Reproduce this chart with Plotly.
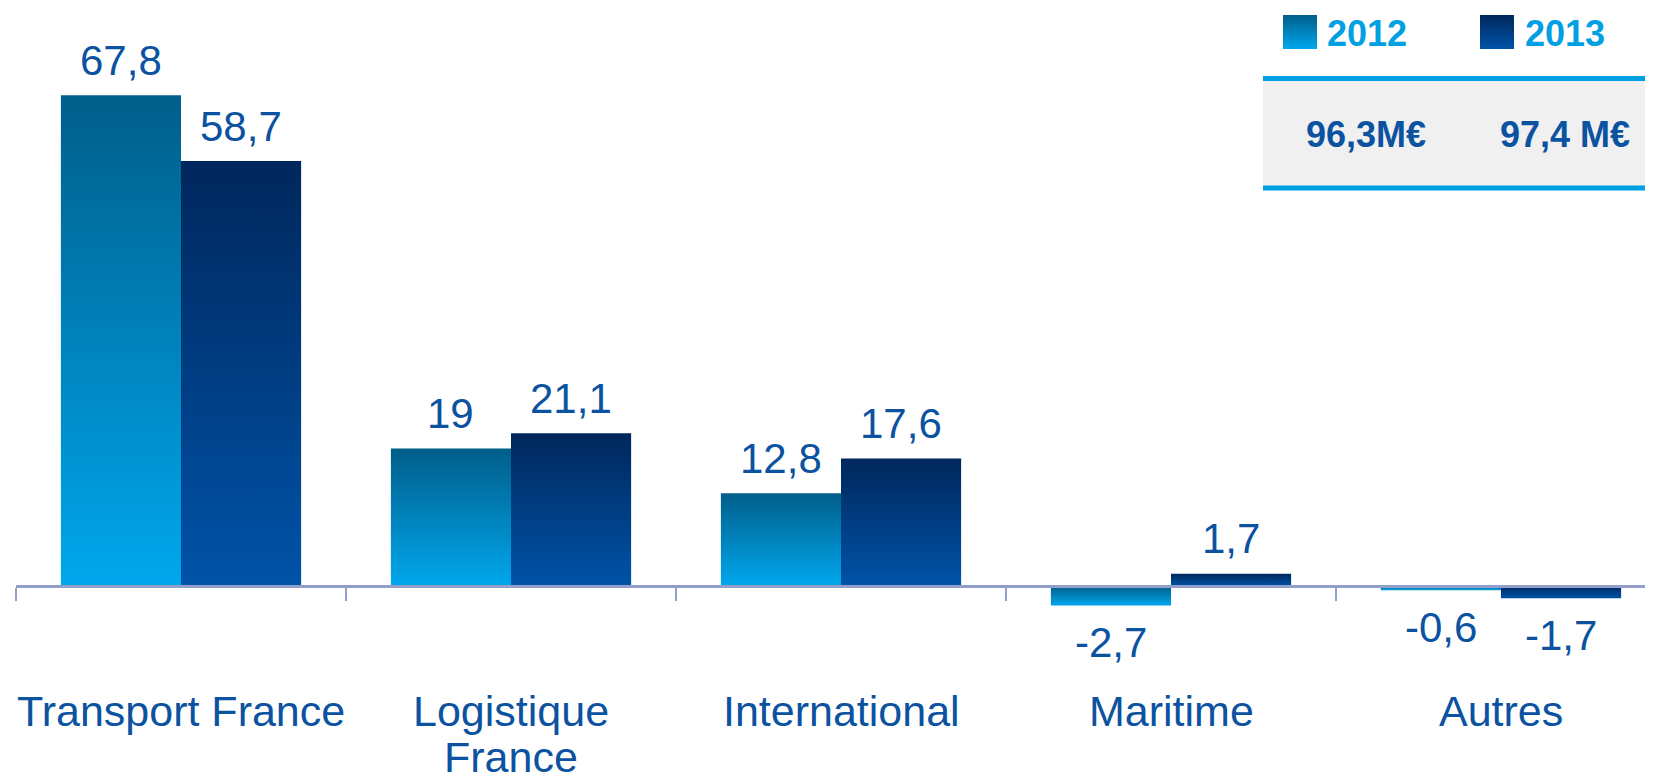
import plotly.graph_objects as go

# ---------------- data ----------------
categories = ["Transport France", "Logistique<br>France", "International", "Maritime", "Autres"]
years = ["2012", "2013"]
values_2012 = [67.8, 19, 12.8, -2.7, -0.6]
values_2013 = [58.7, 21.1, 17.6, 1.7, -1.7]
totals = ["96,3M€", "97,4 M€"]

# ---------------- styling / layout constants ----------------
PAGE_W, PAGE_H = 1653, 775
OFF = 8                          # default body margin of the html page
W, H = PAGE_W - OFF, PAGE_H - OFF
FONT = "Liberation Sans, Arial, sans-serif"
LABEL_COLOR = "#0B52A0"
CYAN = "#00A0E3"
AXIS_COLOR = "#939FCB"
GRADIENTS = {
    "2012": [[0, "#00A7ED"], [1, "#005E8A"]],
    "2013": [[0, "#0053A8"], [1, "#00275C"]],
}
zero_px = 586 - OFF     # pixel row of the value 0 (figure coords)
px_per_unit = 7.24
x0_px = 16 - OFF        # left edge of plot area
cat_px = 330            # width of one category in pixels
bar_w = 0.364           # bar width as fraction of a category
cat_label_shift = 125   # px below the axis line of the first label line
cat_line_gap = 46       # px between label lines

ymax = zero_px / px_per_unit
ymin = -(H - zero_px) / px_per_unit
xr = [-0.5, -0.5 + (W - x0_px) / cat_px]
offsets = {"2012": -bar_w / 2, "2013": bar_w / 2}
series = {"2012": values_2012, "2013": values_2013}


def fmt(v):
    return f"{v:g}".replace(".", ",")


def px(v):
    """page pixel -> figure pixel"""
    return v - OFF


fig = go.Figure()

# bars as gradient-filled polygons, each bar with its own vertical gradient
for yr in years:
    for i, v in enumerate(series[yr]):
        xc = i + offsets[yr]
        xl, xh = xc - bar_w / 2, xc + bar_w / 2
        fig.add_trace(go.Scatter(
            x=[xl, xh, xh, xl, xl], y=[0, 0, v, v, 0],
            mode="lines", fill="toself", line=dict(width=0),
            fillgradient=dict(type="vertical", colorscale=GRADIENTS[yr]),
            showlegend=False, hoverinfo="skip", xaxis="x", yaxis="y",
        ))

# value labels
annotations = []
for yr in years:
    for i, v in enumerate(series[yr]):
        annotations.append(dict(
            x=i + offsets[yr], y=v, xref="x", yref="y", text=fmt(v),
            showarrow=False, yanchor="middle",
            yshift=35 if v >= 0 else -37,
            font=dict(family=FONT, size=42, color=LABEL_COLOR),
        ))

# category labels (one annotation per text line, tighter line spacing)
for i, cat in enumerate(categories):
    for j, line in enumerate(cat.split("<br>")):
        annotations.append(dict(
            x=i, y=0, xref="x", yref="y", text=line,
            showarrow=False, yanchor="middle", xanchor="center",
            yshift=-(cat_label_shift + j * cat_line_gap),
            font=dict(family=FONT, size=43, color=LABEL_COLOR),
        ))

# ---------------- legend / totals box (pixel overlay axes) ----------------
legend_sq = {"2012": (1283, 1317), "2013": (1480, 1514)}
legend_txt_x = {"2012": 1325, "2013": 1523}
total_x = {"2012": 1366, "2013": 1565}
for yr in years:
    a, b = px(legend_sq[yr][0]), px(legend_sq[yr][1])
    t, bt = px(15), px(49)
    fig.add_trace(go.Scatter(
        x=[a, b, b, a, a], y=[bt, bt, t, t, bt],
        mode="lines", fill="toself", line=dict(width=0),
        fillgradient=dict(type="vertical", colorscale=GRADIENTS[yr]),
        showlegend=False, hoverinfo="skip", xaxis="x2", yaxis="y2",
    ))
    annotations.append(dict(
        x=px(legend_txt_x[yr]), y=px(33), xref="x2", yref="y2", text=f"<b>{yr}</b>",
        showarrow=False, xanchor="left", yanchor="middle",
        font=dict(family=FONT, size=36, color=CYAN),
    ))
for yr, t in zip(years, totals):
    annotations.append(dict(
        x=px(total_x[yr]), y=px(134), xref="x2", yref="y2", text=f"<b>{t}</b>",
        showarrow=False, xanchor="center", yanchor="middle",
        font=dict(family=FONT, size=36, color=LABEL_COLOR),
    ))

shapes = [
    dict(type="rect", xref="x2", yref="y2", x0=px(1263), x1=W, y0=px(80), y1=px(186),
         fillcolor="#F0F0F0", line=dict(width=0), layer="below"),
    dict(type="line", xref="x2", yref="y2", x0=px(1263), x1=W, y0=px(78.5), y1=px(78.5),
         line=dict(color=CYAN, width=5)),
    dict(type="line", xref="x2", yref="y2", x0=px(1263), x1=W, y0=px(188), y1=px(188),
         line=dict(color=CYAN, width=5)),
]

fig.update_layout(
    width=W, height=H,
    margin=dict(l=0, r=0, t=0, b=0, autoexpand=False),
    paper_bgcolor="white", plot_bgcolor="rgba(0,0,0,0)",
    showlegend=False, hovermode=False,
    font=dict(family=FONT, color=LABEL_COLOR),
    xaxis=dict(
        domain=[x0_px / W, 1], range=xr, anchor="free",
        position=(0 - ymin) / (ymax - ymin),
        tickmode="array", tickvals=list(range(len(categories))),
        showticklabels=False,
        ticks="", showgrid=False, zeroline=False, automargin=False,
        showline=True, linecolor=AXIS_COLOR, linewidth=3,
        minor=dict(tickmode="array",
                   tickvals=[i - 0.5 for i in range(len(categories) + 1)],
                   ticks="outside", ticklen=13, tickwidth=2, tickcolor=AXIS_COLOR,
                   showgrid=False),
        fixedrange=True,
    ),
    yaxis=dict(domain=[0, 1], range=[ymin, ymax], visible=False, fixedrange=True,
               automargin=False),
    xaxis2=dict(domain=[0, 1], range=[0, W], visible=False, anchor="y2",
                fixedrange=True, automargin=False),
    yaxis2=dict(domain=[0, 1], range=[H, 0], visible=False, anchor="x2",
                fixedrange=True, automargin=False),
    annotations=annotations,
    shapes=shapes,
)

fig.write_html("out.html")
